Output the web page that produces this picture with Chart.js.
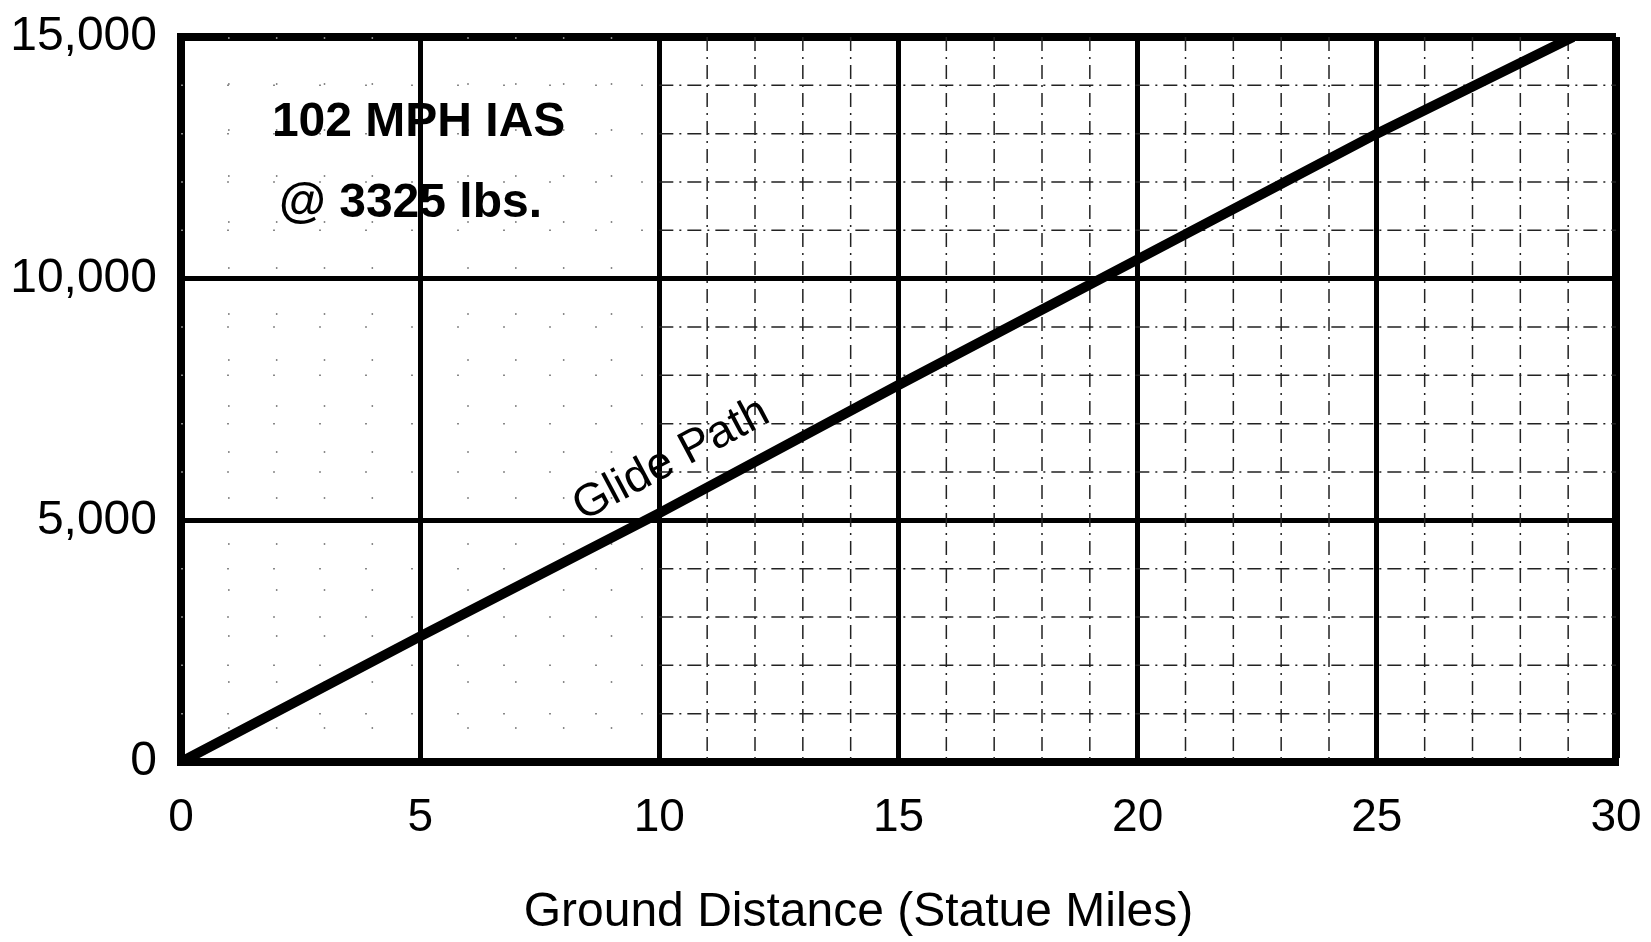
<!DOCTYPE html>
<html>
<head>
<meta charset="utf-8">
<script src="https://cdn.jsdelivr.net/npm/chart.js@4.4.1/dist/chart.umd.min.js"></script>
<style>
  html, body { margin: 0; padding: 0; background: #fff; }
</style>
</head>
<body>
<canvas id="glideChart" width="1651" height="942"></canvas>
<script>
// glide path
const distanceMiles = [0, 5, 10, 15, 20, 25, 29.1];
const altitudeFeet = [0, 2600, 5150, 7800, 10400, 13000, 15000];

const xRange = [0, 30];
const yRange = [0, 15000];
const xMajorStep = 5;
const yMajorStep = 5000;
const xMinorStep = 1;
const yMinorStep = 1000;

// trailing spaces nudge the centred title a little left, as on the original
const xTitle = "Ground Distance (Statue Miles)\u00a0\u00a0\u00a0\u00a0\u00a0\u00a0";

// annotation text: [label, x (miles), y (feet)]
const noteLines = [
    ["102 MPH IAS", 1.9, 13230],
    ["@ 3325 lbs.", 2.05, 11560]
];
const pathLabel = ["Glide Path", 10.25, 6250];

const FONT = "'Liberation Sans', Arial, sans-serif";

// minor grid (dash-dot lines every mile / 1000 ft, barely printed left of 10 mi)
const minorGrid = {
    id: "minorGrid",
    beforeDatasetsDraw(chart) {
        const { ctx, chartArea: a, scales: { x, y } } = chart;
        ctx.save();
        ctx.lineWidth = 1.5;
        for (let v = xRange[0] + xMinorStep; v < xRange[1]; v += xMinorStep) {
            if (v % xMajorStep === 0) continue;
            const px = x.getPixelForValue(v);
            ctx.strokeStyle = v < 10 ? "#888" : "#222";
            ctx.setLineDash(v < 10 ? [2, 44] : [14, 6, 2, 6]);
            ctx.beginPath();
            ctx.moveTo(px, a.top);
            ctx.lineTo(px, a.bottom);
            ctx.stroke();
        }
        const split = x.getPixelForValue(10);
        for (let v = yRange[0] + yMinorStep; v < yRange[1]; v += yMinorStep) {
            if (v % yMajorStep === 0) continue;
            const py = y.getPixelForValue(v);
            ctx.strokeStyle = "#888";
            ctx.setLineDash([2, 44]);
            ctx.beginPath();
            ctx.moveTo(a.left, py);
            ctx.lineTo(split, py);
            ctx.stroke();
            ctx.strokeStyle = "#222";
            ctx.setLineDash([14, 6, 2, 6]);
            ctx.beginPath();
            ctx.moveTo(split, py);
            ctx.lineTo(a.right, py);
            ctx.stroke();
        }
        ctx.restore();
    }
};

// text written inside the plot
const plotNotes = {
    id: "plotNotes",
    afterDatasetsDraw(chart) {
        const { ctx, scales: { x, y } } = chart;
        ctx.save();
        ctx.fillStyle = "#000";
        ctx.textBaseline = "middle";
        ctx.textAlign = "left";
        ctx.font = "bold 48px " + FONT;
        noteLines.forEach(n => {
            ctx.fillText(n[0], x.getPixelForValue(n[1]), y.getPixelForValue(n[2]));
        });
        ctx.translate(x.getPixelForValue(pathLabel[1]), y.getPixelForValue(pathLabel[2]));
        ctx.rotate(-28 * Math.PI / 180);
        ctx.textAlign = "center";
        ctx.font = "46px " + FONT;
        ctx.fillText(pathLabel[0], 0, 0);
        ctx.restore();
    }
};

const ctx = document.getElementById("glideChart").getContext("2d");
new Chart(ctx, {
    type: "scatter",
    data: {
        datasets: [{
            label: "Glide Path",
            data: distanceMiles.map((d, i) => ({ x: d, y: altitudeFeet[i] })),
            showLine: true,
            borderColor: "#000",
            borderWidth: 10,
            pointRadius: 0,
            tension: 0
        }]
    },
    options: {
        responsive: false,
        devicePixelRatio: 1,
        animation: false,
        layout: { padding: { top: 37, right: 35, left: 0, bottom: 0 } },
        plugins: {
            legend: { display: false },
            tooltip: { enabled: false }
        },
        scales: {
            x: {
                type: "linear",
                min: xRange[0],
                max: xRange[1],
                afterFit: s => { s.height = 180; s.paddingLeft = 0; s.paddingRight = 0; },
                ticks: {
                    stepSize: xMajorStep,
                    color: "#000",
                    font: { family: FONT, size: 46 },
                    padding: 29
                },
                grid: {
                    color: "#000",
                    lineWidth: c => (c.tick && c.tick.value === xRange[1]) ? 8 : 5,
                    drawTicks: false
                },
                border: { color: "#000", width: 8 },
                title: {
                    display: true,
                    text: xTitle,
                    color: "#000",
                    font: { family: FONT, size: 48 },
                    padding: { top: 30, bottom: 0 }
                }
            },
            y: {
                min: yRange[0],
                max: yRange[1],
                afterFit: s => { s.width = 181; s.paddingTop = 0; s.paddingBottom = 0; },
                ticks: {
                    stepSize: yMajorStep,
                    color: "#000",
                    font: { family: FONT, size: 48 },
                    padding: 24,
                    callback: v => v.toLocaleString("en-US")
                },
                grid: {
                    color: "#000",
                    lineWidth: c => (c.tick && c.tick.value === yRange[1]) ? 8 : 5,
                    drawTicks: false
                },
                border: { color: "#000", width: 8 }
            }
        }
    },
    plugins: [minorGrid, plotNotes]
});
</script>
</body>
</html>
